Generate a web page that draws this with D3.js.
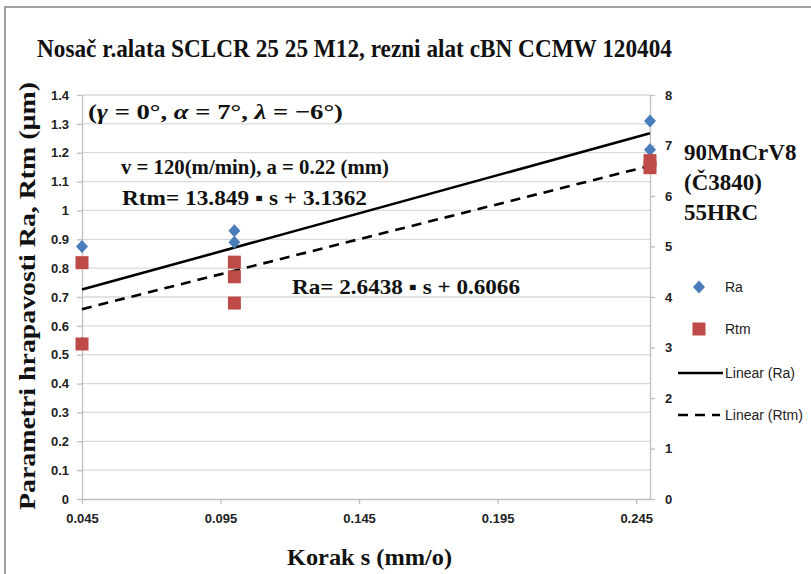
<!DOCTYPE html>
<html><head><meta charset="utf-8">
<script src="https://cdn.jsdelivr.net/npm/d3@7"></script>
<style>
body{margin:0;background:#fff;}
svg{display:block;}
</style></head>
<body>
<svg id="c" width="811" height="574"></svg>
<script>
// ---- data ----
const raS = [0.045, 0.045, 0.1, 0.1, 0.25, 0.25];
const raValues = [0.875, 0.54, 0.93, 0.89, 1.31, 1.21];
const rtmS = [0.045, 0.045, 0.1, 0.1, 0.1, 0.25, 0.25];
const rtmValues = [4.68, 3.07, 4.69, 4.40, 3.88, 6.70, 6.56];
const raFit = {slope: 2.6438, intercept: 0.6066};
const rtmFit = {slope: 13.849, intercept: 3.1362};
const xTicks = [0.045, 0.095, 0.145, 0.195, 0.245];
const yLeftTicks = d3.range(0, 15).map(i => i / 10);
const yRightTicks = [0, 1, 2, 3, 4, 5, 6, 7, 8];
const titleText = "Nosač r.alata SCLCR 25 25 M12, rezni alat cBN CCMW 120404";
const yLabel = "Parametri hrapavosti Ra, Rtm (µm)";
const xLabel = "Korak s (mm/o)";
const materialLines = ["90MnCrV8", "(Č3840)", "55HRC"];
const legendItems = ["Ra", "Rtm", "Linear (Ra)", "Linear (Rtm)"];

// ---- layout ----
const svg = d3.select("#c");
const L = 82, R = 650, T = 95, B = 499;
const x = d3.scaleLinear().domain([0.045, 0.25]).range([L, R]);
const yL = d3.scaleLinear().domain([0, 1.4]).range([B, T]);
const yR = d3.scaleLinear().domain([0, 8]).range([B, T]);
const serif = "'Liberation Serif','Times New Roman',serif";
const narrow = "'Liberation Sans Narrow','Liberation Sans',Arial,sans-serif";
const blue = "#4a7ebb", red = "#be4b48";

// diamond path (half width 6, half height 6.5)
function diamondPath() {
  const p = d3.path();
  p.moveTo(0, -6.5); p.lineTo(6, 0); p.lineTo(0, 6.5); p.lineTo(-6, 0); p.closePath();
  return p.toString();
}

// frame
svg.append("rect").attr("x", 5).attr("y", 7).attr("width", 830).attr("height", 600)
  .attr("fill", "none").attr("stroke", "#a0a0a0").attr("stroke-width", 2);

// gridlines
svg.append("g").selectAll("line").data(yLeftTicks.slice(1)).join("line")
  .attr("x1", L).attr("x2", R).attr("y1", d => yL(d)).attr("y2", d => yL(d))
  .attr("stroke", "#d9d9d9").attr("stroke-width", 1.3);

function styleAxis(g) {
  g.selectAll(".domain").attr("stroke", "#bfbfbf").attr("stroke-width", 1.3);
  g.selectAll(".tick line").attr("stroke", "#bfbfbf").attr("stroke-width", 1.3);
  g.selectAll(".tick text").attr("fill", "#222").style("font-family", narrow).style("font-size", "13px").style("font-weight", "bold");
}

// x axis
svg.append("g").attr("transform", `translate(0,${B})`)
  .call(d3.axisBottom(x).tickValues(xTicks).tickFormat(d3.format(".3f")).tickSize(5).tickPadding(10).tickSizeOuter(0))
  .call(styleAxis);
// left axis
svg.append("g").attr("transform", `translate(${L},0)`)
  .call(d3.axisLeft(yL).tickValues(yLeftTicks).tickFormat(d => d3.format("")(Math.round(d * 10) / 10)).tickSize(5).tickPadding(8).tickSizeOuter(0))
  .call(styleAxis);
// right axis
svg.append("g").attr("transform", `translate(${R},0)`)
  .call(d3.axisRight(yR).tickValues(yRightTicks).tickSize(5).tickPadding(10).tickSizeOuter(0))
  .call(styleAxis);

// trend lines
const xs = x.domain();
svg.append("line").attr("x1", x(xs[0])).attr("x2", x(xs[1]))
  .attr("y1", yL(raFit.slope * xs[0] + raFit.intercept)).attr("y2", yL(raFit.slope * xs[1] + raFit.intercept))
  .attr("stroke", "#000").attr("stroke-width", 2.6);
svg.append("line").attr("x1", x(xs[0])).attr("x2", x(xs[1]))
  .attr("y1", yR(rtmFit.slope * xs[0] + rtmFit.intercept)).attr("y2", yR(rtmFit.slope * xs[1] + rtmFit.intercept))
  .attr("stroke", "#000").attr("stroke-width", 2.6).attr("stroke-dasharray", "10,7");

// markers
svg.append("g").selectAll("path").data(raValues).join("path")
  .attr("d", diamondPath()).attr("transform", (d, i) => `translate(${x(raS[i])},${yL(d)})`)
  .attr("fill", blue);
const sq = 13;
svg.append("g").selectAll("rect").data(rtmValues).join("rect")
  .attr("x", (d, i) => x(rtmS[i]) - sq / 2).attr("y", d => yR(d) - sq / 2)
  .attr("width", sq).attr("height", sq).attr("fill", red);

// annotations
const ann = svg.append("g").style("font-family", serif).attr("fill", "#111");
const g1 = ann.append("text").attr("x", 88).attr("y", 119).style("font-size", "22px").style("font-weight", "bold")
  .attr("textLength", 255).attr("lengthAdjust", "spacingAndGlyphs");
[["(", 0], ["γ", 1], [" = 0°, ", 0], ["α", 1], [" = 7°, ", 0], ["λ", 1], [" = −6°)", 0]].forEach(p => {
  g1.append("tspan").text(p[0]).style("font-style", p[1] ? "italic" : "normal");
});
ann.append("text").attr("x", 121).attr("y", 174).style("font-size", "21px").style("font-weight", "bold")
  .attr("textLength", 268).attr("lengthAdjust", "spacingAndGlyphs").text("v = 120(m/min), a = 0.22 (mm)");
ann.append("text").attr("x", 122).attr("y", 205).style("font-size", "21px").style("font-weight", "bold")
  .attr("textLength", 245).attr("lengthAdjust", "spacingAndGlyphs").text("Rtm= 13.849 ▪ s + 3.1362");
ann.append("text").attr("x", 292).attr("y", 294).style("font-size", "21px").style("font-weight", "bold")
  .attr("textLength", 228).attr("lengthAdjust", "spacingAndGlyphs").text("Ra= 2.6438 ▪ s + 0.6066");

// title and axis labels
svg.append("text").attr("x", 37).attr("y", 57).style("font-family", serif).style("font-size", "25px").style("font-weight", "bold")
  .attr("fill", "#111").attr("textLength", 635).attr("lengthAdjust", "spacingAndGlyphs").text(titleText);
svg.append("text").attr("transform", "translate(35,296) rotate(-90)").attr("text-anchor", "middle")
  .style("font-family", serif).style("font-size", "23px").style("font-weight", "bold").attr("fill", "#111")
  .attr("textLength", 428).attr("lengthAdjust", "spacingAndGlyphs").text(yLabel);
svg.append("text").attr("x", 287).attr("y", 565)
  .style("font-family", serif).style("font-size", "23px").style("font-weight", "bold").attr("fill", "#111")
  .attr("textLength", 165).attr("lengthAdjust", "spacingAndGlyphs").text(xLabel);

// material text
svg.append("g").selectAll("text").data(materialLines).join("text")
  .attr("x", 684).attr("y", (d, i) => 160 + i * 30)
  .style("font-family", serif).style("font-size", "23px").style("font-weight", "bold").attr("fill", "#111").text(d => d);

// legend
const lg = svg.append("g");
const ly = [287, 329, 373, 415];
lg.append("path").attr("d", diamondPath()).attr("transform", `translate(699,${ly[0]})`).attr("fill", blue);
lg.append("rect").attr("x", 699 - sq / 2).attr("y", ly[1] - sq / 2).attr("width", sq).attr("height", sq).attr("fill", red);
lg.append("line").attr("x1", 678).attr("x2", 723).attr("y1", ly[2]).attr("y2", ly[2]).attr("stroke", "#000").attr("stroke-width", 2.6);
lg.append("line").attr("x1", 678).attr("x2", 720).attr("y1", ly[3]).attr("y2", ly[3]).attr("stroke", "#000").attr("stroke-width", 2.6).attr("stroke-dasharray", "10,7");
lg.selectAll("text").data(legendItems).join("text")
  .attr("x", 725).attr("y", (d, i) => ly[i]).attr("dy", "0.35em")
  .style("font-family", narrow).style("font-size", "14px").attr("fill", "#222").text(d => d);
</script>
</body></html>
